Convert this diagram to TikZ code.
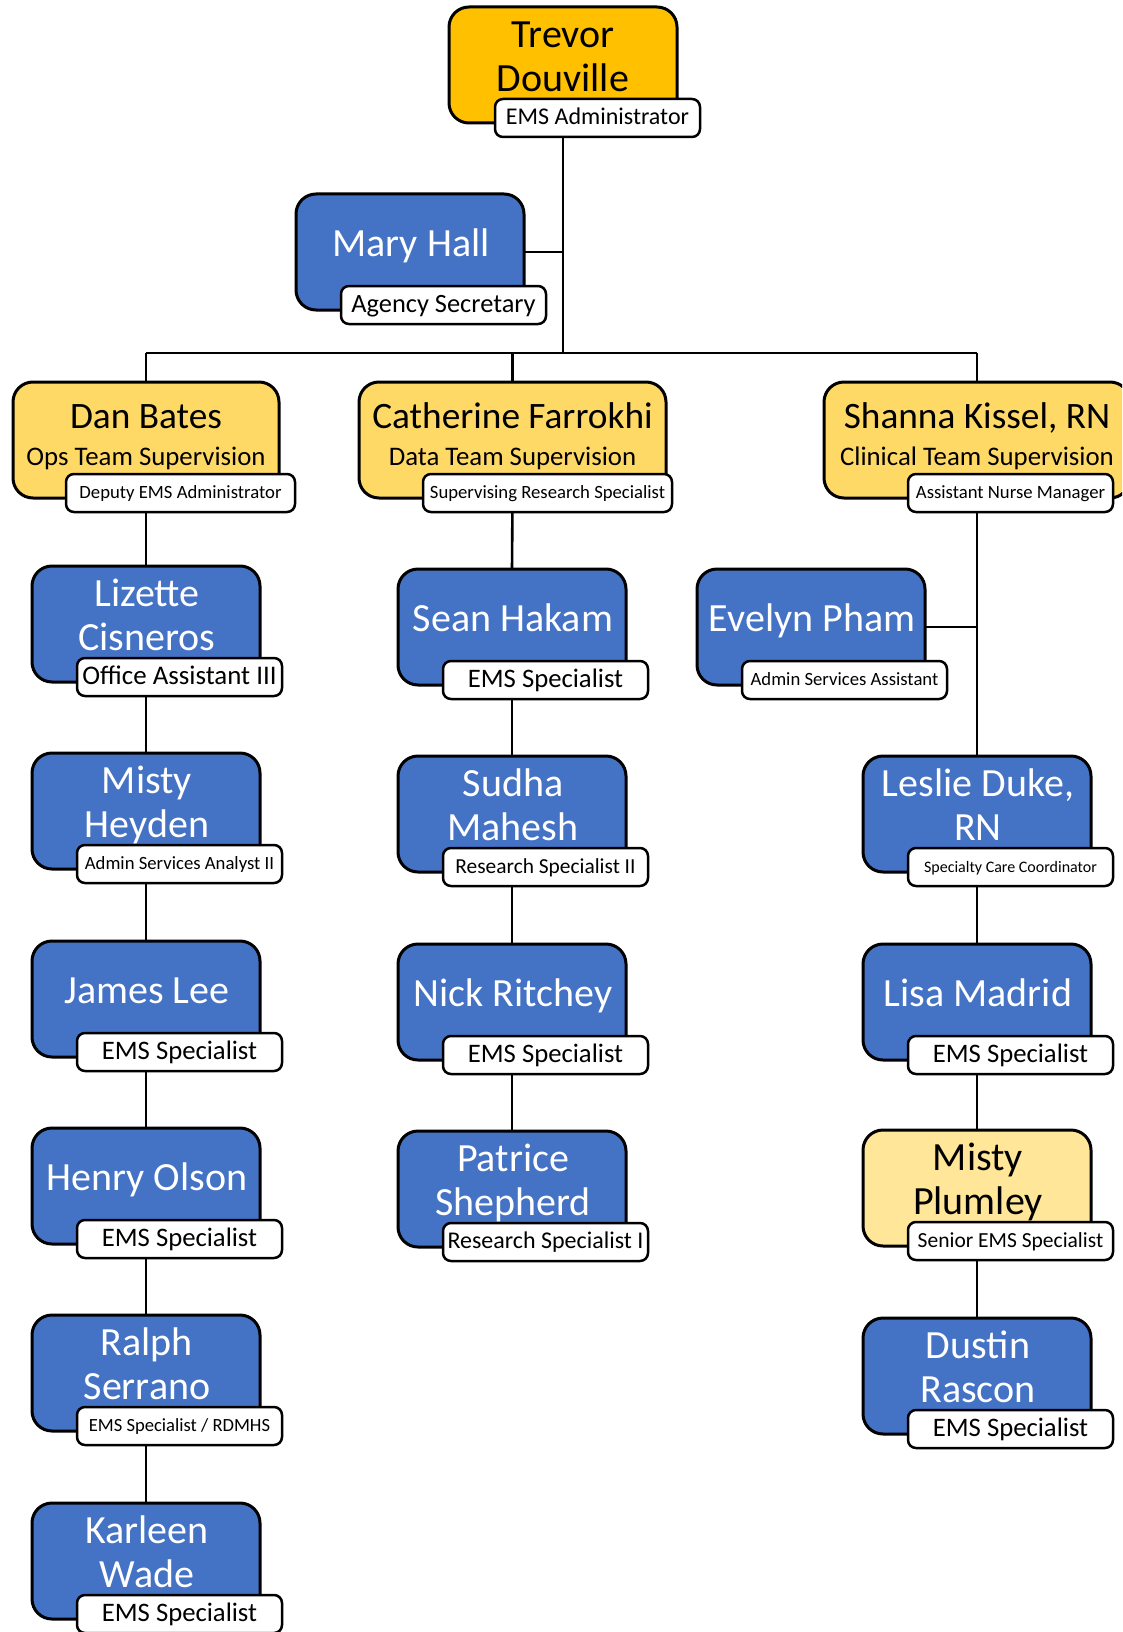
\documentclass[tikz,border=0pt]{standalone}
\usepackage{fontspec}
\setmainfont{Carlito}
\usetikzlibrary{calc}
\pgfdeclarelayer{bg}
\pgfsetlayers{bg,main}
\definecolor{topgold}{HTML}{FFC000}
\definecolor{leadyellow}{HTML}{FFD966}
\definecolor{paleyellow}{HTML}{FFE699}
\definecolor{staffblue}{HTML}{4472C4}
\newcommand{\fs}[1]{\fontsize{#1}{#1}\selectfont}
% strut for title tags, a little taller so the text sits slightly low
\newcommand{\tagstrut}{\rule[-0.3\baselineskip]{0pt}{\dimexpr\baselineskip+4pt\relax}}

% single-line name card: id, fill, x, y, name, title, title size
\newcommand{\cardA}[7]{%
  \node[card, fill=#2] (#1) at (#3,#4) {};
  \node[nm, text=white] at ($(#1.north west)+(115,62)$) {#5};
  \node[tag, font=\fs{#7}] (#1t) at ($(#1.north west)+(45,92)$) {#6};
}
% two-line name card: id, fill, text colour, x, y, line 1, line 2, title, title size
\newcommand{\cardB}[9]{%
  \node[card, fill=#2] (#1) at (#4,#5) {};
  \node[nm, text=#3] at ($(#1.north west)+(115,40)$) {#6};
  \node[nm, text=#3] at ($(#1.north west)+(115,84)$) {#7};
  \node[tag, font=\fs{#9}] (#1t) at ($(#1.north west)+(45,92)$) {#8};
}

\begin{document}
\begin{tikzpicture}[x=1pt, y=-1pt,
  card/.style={draw=black, line width=3pt, rounded corners=20pt,
    minimum width=228pt, minimum height=116pt, anchor=north west,
    inner sep=0pt, outer sep=0pt},
  tag/.style={draw=black, line width=2.5pt, fill=white, rounded corners=8pt,
    minimum width=205pt, minimum height=38pt, anchor=north west,
    inner sep=0pt, outer sep=0pt, execute at begin node=\tagstrut},
  nm/.style={anchor=base, inner sep=0pt, font=\fs{40}},
  link/.style={draw=black, line width=2.6pt}
]
\path[use as bounding box, clip] (0,0) rectangle (1122,1632);

% ---- head of the agency ----
\node[card, fill=topgold] (trevor) at (449,7) {};
\node[nm] at ($(trevor.north west)+(114,41)$) {Trevor};
\node[nm] at ($(trevor.north west)+(114,85)$) {Douville};
\node[tag, font=\fs{24}] (trevort) at (495,99) {EMS Administrator};

\cardA{mary}{staffblue}{296}{194}{Mary Hall}{Agency Secretary}{26.4}

% ---- team supervisors ----
\node[card, fill=leadyellow, minimum width=266pt] (dan) at (13,382) {};
\node[nm, font=\fs{37.3}] at ($(dan.north west)+(133,46)$) {Dan Bates};
\node[nm, font=\fs{26.8}] at ($(dan.north west)+(133,83)$) {Ops Team Supervision};
\node[tag, font=\fs{18.7}, minimum width=229pt] (dant) at (66,474) {Deputy EMS Administrator};

\node[card, fill=leadyellow, minimum width=307pt] (cath) at (359,382) {};
\node[nm, font=\fs{37.3}] at ($(cath.north west)+(153.5,46)$) {Catherine Farrokhi};
\node[nm, font=\fs{26.8}] at ($(cath.north west)+(153.5,83)$) {Data Team Supervision};
\node[tag, font=\fs{18.7}, minimum width=249pt] (catht) at (423,474) {Supervising Research Specialist};

\node[card, fill=leadyellow, minimum width=306pt] (shanna) at (824,382) {};
\node[nm, font=\fs{37.3}] at ($(shanna.north west)+(153,46)$) {Shanna Kissel, RN};
\node[nm, font=\fs{26.8}] at ($(shanna.north west)+(153,83)$) {Clinical Team Supervision};
\node[tag, font=\fs{18.7}] (shannat) at (908,474) {Assistant Nurse Manager};

% ---- operations team ----
\cardB{l1}{staffblue}{white}{32}{566}{Lizette}{Cisneros}{Office Assistant III}{26.9}
\cardB{l2}{staffblue}{white}{32}{753}{Misty}{Heyden}{Admin Services Analyst II}{18.7}
\cardA{l3}{staffblue}{32}{941}{James Lee}{EMS Specialist}{26.7}
\cardA{l4}{staffblue}{32}{1128}{Henry Olson}{EMS Specialist}{26.7}
\cardB{l5}{staffblue}{white}{32}{1315}{Ralph}{Serrano}{EMS Specialist / RDMHS}{18.6}
\cardB{l6}{staffblue}{white}{32}{1503}{Karleen}{Wade}{EMS Specialist}{26.7}

% ---- data team ----
\cardA{m1}{staffblue}{398}{569}{Sean Hakam}{EMS Specialist}{26.7}
\cardB{m2}{staffblue}{white}{398}{756}{Sudha}{Mahesh}{Research Specialist II}{21.4}
\cardA{m3}{staffblue}{398}{944}{Nick Ritchey}{EMS Specialist}{26.7}
\cardB{m4}{staffblue}{white}{398}{1131}{Patrice}{Shepherd}{Research Specialist I}{24}

% ---- clinical team ----
\cardA{ev}{staffblue}{697}{569}{Evelyn Pham}{Admin Services Assistant}{18.7}
\cardB{r1}{staffblue}{white}{863}{756}{Leslie Duke,}{RN}{Specialty Care Coordinator}{16}
\cardA{r2}{staffblue}{863}{944}{Lisa Madrid}{EMS Specialist}{26.7}
\cardB{r3}{paleyellow}{black}{863}{1130}{Misty}{Plumley}{Senior EMS Specialist}{21.5}
\cardB{r4}{staffblue}{white}{863}{1318}{Dustin}{Rascon}{EMS Specialist}{26.7}

% ---- reporting lines ----
\coordinate (bar) at (563,353);
\begin{pgfonlayer}{bg}
  \draw[link] (trevor.south) -- (bar);
  \draw[link] (mary.east) -- (mary.east -| bar);
  \draw[link] (bar -| dan.north) -- (bar -| shanna.north);
  \draw[link] (bar -| dan.north) -- (dan.north);
  \draw[link] (bar -| cath.north) -- (cath.north);
  \draw[link] (bar -| shanna.north) -- (shanna.north);
  \draw[link] (dan.south) -- (l1.north);
  \draw[link] (l1.south) -- (l2.north);
  \draw[link] (l2.south) -- (l3.north);
  \draw[link] (l3.south) -- (l4.north);
  \draw[link] (l4.south) -- (l5.north);
  \draw[link] (l5.south) -- (l6.north);
  \draw[link] (cath.south) -- (m1.north);
  \draw[link] (m1.south) -- (m2.north);
  \draw[link] (m2.south) -- (m3.north);
  \draw[link] (m3.south) -- (m4.north);
  \draw[link] (shanna.south) -- (r1.north);
  \draw[link] (ev.east) -- (ev.east -| r1.north);
  \draw[link] (r1.south) -- (r2.north);
  \draw[link] (r2.south) -- (r3.north);
  \draw[link] (r3.south) -- (r4.north);
\end{pgfonlayer}
\end{tikzpicture}
\end{document}
